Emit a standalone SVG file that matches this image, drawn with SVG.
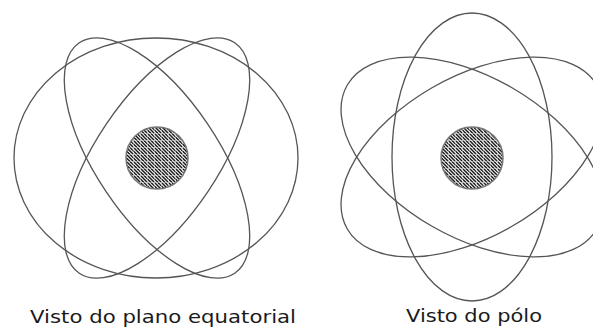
<svg xmlns="http://www.w3.org/2000/svg" width="593" height="327" viewBox="0 0 593 327">
<defs>
<style>
.orb{fill:none;stroke:#555;stroke-width:1.3}
.nuc{fill:url(#hatch);stroke:#777;stroke-width:1.5}
.lbl{font-family:"DejaVu Sans","Verdana",sans-serif;font-size:18.5px;fill:#1a1a1a}
</style>
<pattern id="hatch" patternUnits="userSpaceOnUse" width="7" height="7">
<rect width="7" height="7" fill="#fff"/>
<g stroke="#1a1a1a" stroke-width="1.5">
<line x1="-1" y1="-1" x2="8" y2="8"/>
<line x1="2.5" y1="-1" x2="8" y2="4.5"/>
<line x1="-1" y1="2.5" x2="4.5" y2="8"/>
<line x1="6" y1="-1" x2="8" y2="1"/>
<line x1="-1" y1="6" x2="1" y2="8"/>
</g>
<g stroke="#fff" stroke-width="0.8">
<line x1="0" y1="0" x2="0" y2="7"/>
<line x1="0" y1="0" x2="7" y2="0"/>
</g>
</pattern>
</defs>
<rect width="593" height="327" fill="#fff"/>
<g id="equatorial">
<ellipse class="orb" cx="156" cy="158" rx="142" ry="120"/>
<ellipse class="orb" cx="157" cy="158" rx="139" ry="61" transform="rotate(56 157 158)"/>
<ellipse class="orb" cx="157" cy="158" rx="139" ry="61" transform="rotate(-56 157 158)"/>
<circle class="nuc" cx="157" cy="158" r="31"/>
<text class="lbl" x="30" y="323" textLength="266" lengthAdjust="spacingAndGlyphs">Visto do plano equatorial</text>
</g>
<g id="polo">
<ellipse class="orb" cx="472" cy="157" rx="80" ry="144"/>
<ellipse class="orb" cx="472" cy="157" rx="144" ry="80" transform="rotate(30 472 157)"/>
<ellipse class="orb" cx="472" cy="157" rx="144" ry="80" transform="rotate(-30 472 157)"/>
<circle class="nuc" cx="472" cy="158" r="31"/>
<text class="lbl" x="406" y="322" textLength="136" lengthAdjust="spacingAndGlyphs">Visto do pólo</text>
</g>
</svg>
